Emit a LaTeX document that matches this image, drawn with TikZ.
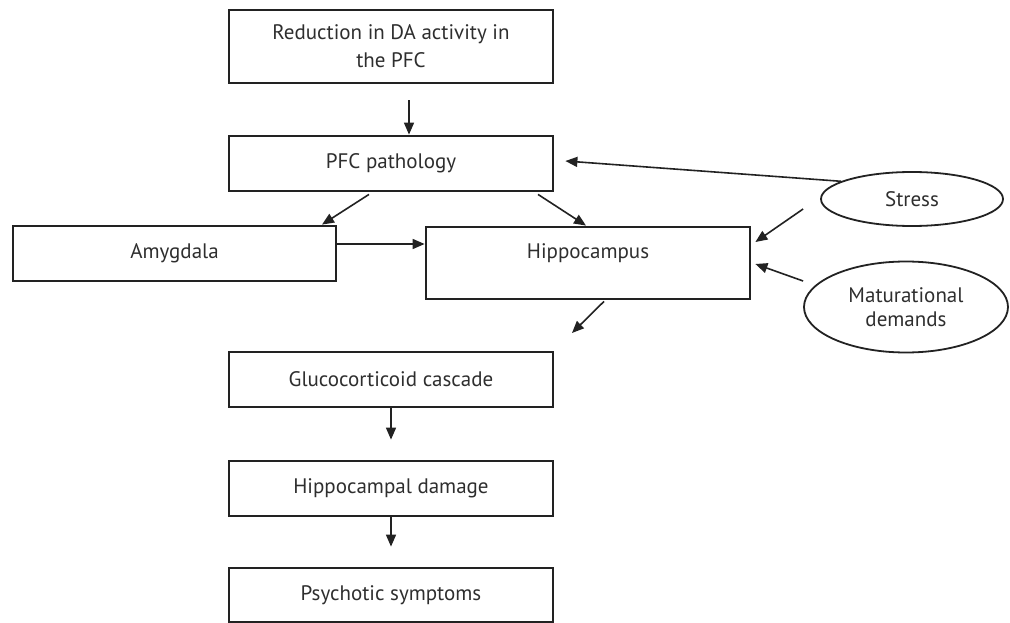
\documentclass[tikz,border=0pt]{standalone}
\usepackage{fontspec}
\setmainfont{PT Sans}
\usetikzlibrary{arrows.meta,shapes.geometric}
\definecolor{txt}{HTML}{2E2E2E}
\definecolor{ln}{HTML}{222222}
\begin{document}
\begin{tikzpicture}[x=1pt,y=-1pt,
  box/.style={draw=ln,line width=2.8pt,rectangle,inner sep=0pt,minimum width=324pt,minimum height=55pt,text=txt,font=\fontsize{21}{28}\selectfont,align=center},
  oval/.style={draw=ln,line width=1.8pt,ellipse,inner sep=0pt,text=txt,font=\fontsize{21}{24}\selectfont,align=center},
  arr/.style={draw=ln,line width=1.6pt,-{Triangle[length=12pt,width=10pt]}}]
\useasboundingbox (0,0) rectangle (1010,623);
\node[box,minimum height=73pt] (top) at (391,46.5) {Reduction in DA activity in\\the PFC};
\node[box] (pfc) at (391,163.5) {PFC pathology};
\node[box,minimum width=323pt] (amyg) at (174.5,253.5) {Amygdala};
\node[box,minimum height=72pt] (hippo) at (588,263) {Hippocampus\\[-12pt]\strut};
\node[box] (gluco) at (391,379.5) {Glucocorticoid cascade};
\node[box] (damage) at (391,488.5) {Hippocampal damage};
\node[box,minimum height=54pt] (psych) at (391,595) {Psychotic symptoms};
\node[oval,minimum width=182pt,minimum height=54pt] (stress) at (912,199) {Stress};
\node[oval,minimum width=204pt,minimum height=91pt] (mat) at (906,307) {Maturational\\demands};
\coordinate (free) at (572,333);
\draw[arr] ([xshift=18pt,yshift=-16pt]top.south) -- ([xshift=18pt]pfc.north);
\draw[arr] ([xshift=-22pt,yshift=-2pt]pfc.south) -- ([xshift=147.5pt]amyg.north);
\draw[arr] ([xshift=147pt,yshift=-2pt]pfc.south) -- ([xshift=-2pt]hippo.north);
\draw[arr] ([yshift=9.5pt]amyg.east) -- ([yshift=19pt]hippo.west);
\draw[arr] (stress.166) -- ([xshift=11pt,yshift=2.5pt]pfc.east);
\draw[arr] ([xshift=-17pt,yshift=-10pt]stress.west) -- ([xshift=4pt,yshift=21pt]hippo.east);
\draw[arr] ([yshift=26pt]mat.west) -- ([xshift=4pt,yshift=-1pt]hippo.east);
\draw[arr] ([xshift=16pt,yshift=-1pt]hippo.south) -- (free);
\draw[arr] (gluco.south) -- ([yshift=20pt]damage.north);
\draw[arr] (damage.south) -- ([yshift=20pt]psych.north);
\end{tikzpicture}
\end{document}
